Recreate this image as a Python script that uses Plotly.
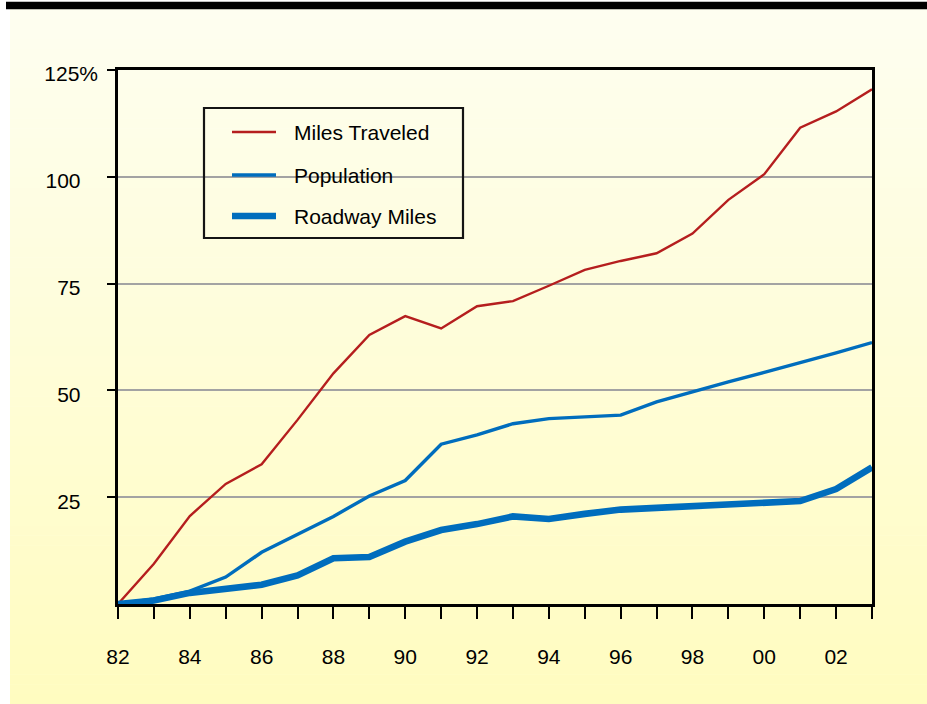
import plotly.graph_objects as go

# ---------------- data ----------------
years = list(range(1982, 2004))
miles_traveled = [0, 9.4, 20.6, 28.1, 32.7, 43.1, 54.0, 63.0, 67.4, 64.5, 69.7,
                  70.9, 74.5, 78.2, 80.3, 82.1, 86.7, 94.6, 100.6, 111.5, 115.3, 120.5]
population = [0, 1.2, 3.0, 6.3, 12.1, 16.2, 20.5, 25.3, 28.9, 37.4, 39.6,
              42.2, 43.4, 43.8, 44.2, 47.3, 49.7, 52.0, 54.2, 56.4, 58.8, 61.2]
roadway_miles = [0, 0.8, 2.6, 3.6, 4.5, 6.7, 10.7, 11.0, 14.6, 17.3, 18.7,
                 20.5, 19.9, 21.1, 22.1, 22.5, 22.9, 23.2, 23.6, 24.1, 26.9, 32.0]
series_names = ["Miles Traveled", "Population", "Roadway Miles"]
x_tick_text = ["82", "", "84", "", "86", "", "88", "", "90", "", "92", "",
               "94", "", "96", "", "98", "", "00", "", "02", ""]
y_tick_vals = [25, 50, 75, 100, 125]
y_tick_text = ["25", "50", "75", "100", "125%"]

# ---------------- style ----------------
W, H = 927, 704
L, R, T, B = 118, 55, 70, 100
RED = "#B51E1E"
BLUE = "#006DBD"
FONT = "Liberation Sans, Arial, Helvetica, sans-serif"

pw = W - L - R
ph = H - T - B


def px_to_paper_x(p):
    return (p - L) / pw


def px_to_paper_y(p):
    return (H - B - p) / ph


fig = go.Figure()
styles = [(RED, 2.4), (BLUE, 3.4), (BLUE, 6.6)]
for name, vals, (col, w) in zip(series_names, [miles_traveled, population, roadway_miles], styles):
    fig.add_trace(go.Scatter(x=years, y=vals, mode="lines", name=name,
                             showlegend=False,
                             line=dict(color=col, width=w)))

# background gradient (pale cream at top to yellow at bottom)
shapes = []
top_c = (254, 254, 240)
bot_c = (255, 252, 192)
y_start, y_end = 9, H
n = 70
step = (y_end - y_start) / n
for i in range(n):
    t = i / (n - 1)
    c = tuple(round(a + (b - a) * t) for a, b in zip(top_c, bot_c))
    y0p = y_start + i * step
    y1p = y_start + (i + 1) * step + 0.6
    shapes.append(dict(type="rect", xref="paper", yref="paper", layer="below",
                       x0=px_to_paper_x(10), x1=px_to_paper_x(W + 2),
                       y0=px_to_paper_y(y1p), y1=px_to_paper_y(y0p),
                       line=dict(width=0), fillcolor="rgb(%d,%d,%d)" % c))
# black bar at top
shapes.append(dict(type="rect", xref="paper", yref="paper", layer="below",
                   x0=px_to_paper_x(6), x1=px_to_paper_x(W + 2),
                   y0=px_to_paper_y(9.3), y1=px_to_paper_y(1.7),
                   line=dict(width=0), fillcolor="black"))

# legend (box, samples, labels)
shapes.append(dict(type="rect", xref="paper", yref="paper", layer="above",
                   x0=px_to_paper_x(204), x1=px_to_paper_x(463),
                   y0=px_to_paper_y(238), y1=px_to_paper_y(108),
                   line=dict(color="#141414", width=2.2), fillcolor="rgba(0,0,0,0)"))
annotations = []
row_y = [132, 175, 216]
for name, (col, w), ry in zip(series_names, styles, row_y):
    shapes.append(dict(type="line", xref="paper", yref="paper", layer="above",
                       x0=px_to_paper_x(232), x1=px_to_paper_x(276),
                       y0=px_to_paper_y(ry), y1=px_to_paper_y(ry),
                       line=dict(color=col, width=w)))
    annotations.append(dict(xref="paper", yref="paper", x=px_to_paper_x(292),
                            y=px_to_paper_y(ry + 0.5), xanchor="left", yanchor="middle",
                            text=name, showarrow=False,
                            font=dict(family=FONT, size=21, color="black")))

pad = "\u2007\u00a0"
y_text = [t if t.endswith("%") else t + pad for t in y_tick_text]

fig.update_layout(
    width=W, height=H, autosize=False,
    margin=dict(l=L, r=R, t=T, b=B, pad=0),
    paper_bgcolor="white",
    plot_bgcolor="rgba(0,0,0,0)",
    font=dict(family=FONT, size=21, color="black"),
    shapes=shapes,
    annotations=annotations,
    showlegend=False,
    xaxis=dict(range=[1982, 2003], showline=True, linecolor="black", linewidth=2.5,
               mirror=True, ticks="outside", ticklen=12, tickwidth=2, tickcolor="black",
               tickvals=years, ticktext=x_tick_text, ticklabelstandoff=20,
               showgrid=False, zeroline=False,
               tickfont=dict(family=FONT, size=21, color="black")),
    yaxis=dict(range=[0, 125], showline=True, linecolor="black", linewidth=2.5,
               mirror=True, ticks="outside", ticklen=8, tickwidth=2, tickcolor="black",
               tickvals=y_tick_vals, ticktext=y_text, ticklabelstandoff=5,
               ticklabelshift=4,
               showgrid=True, gridcolor="#A3A3A3", gridwidth=2, zeroline=False,
               tickfont=dict(family=FONT, size=21, color="black")),
)

fig.write_html("out.html", config={"displayModeBar": False},
               post_script="document.body.style.margin='0';document.body.style.overflow='hidden';")
